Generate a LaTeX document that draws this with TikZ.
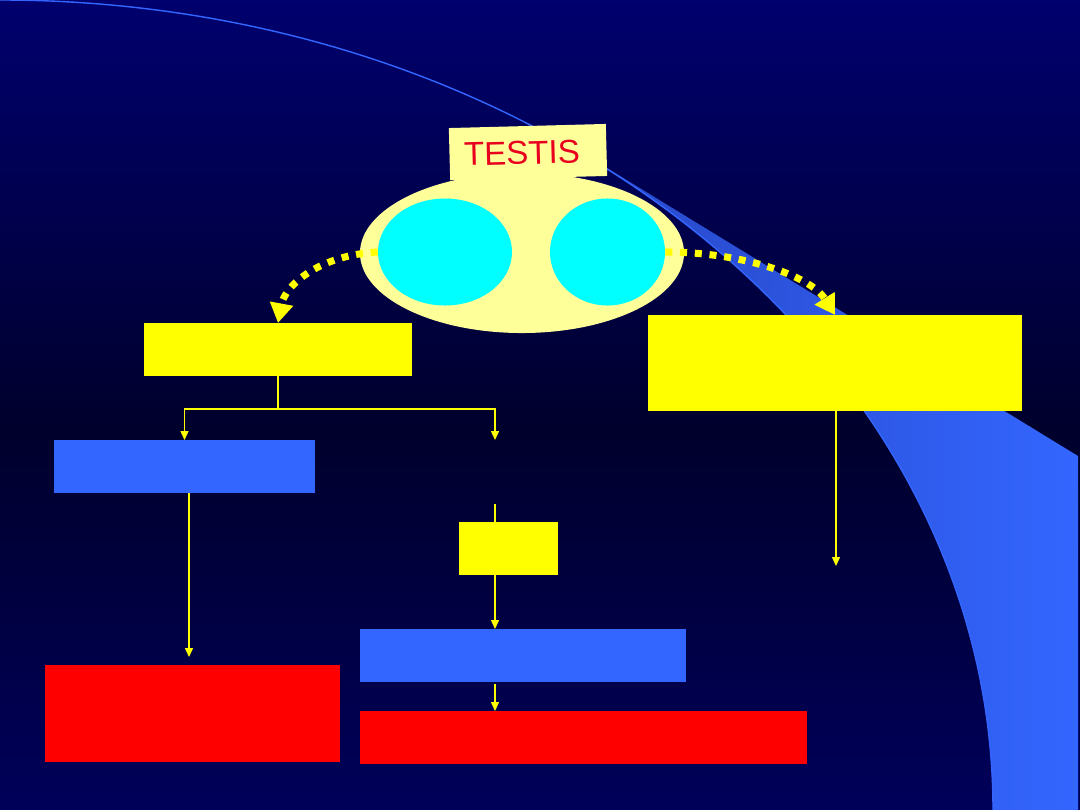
\documentclass[tikz,border=0pt]{standalone}
\usepackage{fontspec}
\setmainfont{Liberation Sans}
\usetikzlibrary{arrows.meta,shapes.geometric}

\definecolor{fondhaut}{RGB}{0,0,110}
\definecolor{fondmilieu}{RGB}{0,0,44}
\definecolor{fondbas}{RGB}{0,0,90}
\definecolor{vagueG}{RGB}{40,72,200}
\definecolor{vagueD}{RGB}{51,102,255}
\definecolor{jaunevif}{RGB}{255,255,0}
\definecolor{jaunepale}{RGB}{255,255,153}
\definecolor{bleuvif}{RGB}{51,102,255}
\definecolor{rougevif}{RGB}{255,0,0}
\definecolor{rougetitre}{RGB}{232,0,30}
\definecolor{cyanvif}{RGB}{0,255,255}

\begin{document}
\begin{tikzpicture}[x=0.025cm, y=-0.025cm,
	boite/.style={rectangle, inner sep=0pt, outer sep=0pt},
	jaune/.style={boite, fill=jaunevif},
	bleu/.style={boite, fill=bleuvif},
	rouge/.style={boite, fill=rougevif},
	lien/.style={draw=jaunevif, line width=1pt},
	fleche/.style={lien, -{Triangle[length=6.4pt,width=5.7pt]}},
	pointille/.style={draw=jaunevif, line width=5pt, dash pattern=on 5pt off 5.5pt, -{Triangle[length=14pt,width=16pt]}}]
	\useasboundingbox (0,0) rectangle (1080,810);
	
	% Fond
	\shade[top color=fondhaut, bottom color=fondmilieu] (0,0) rectangle (1080,430);
	\shade[top color=fondmilieu, bottom color=fondbas] (0,429) rectangle (1080,810);
	\shade[left color=vagueG, right color=vagueD] (607,168) -- (1078,456) -- (1078,810) -- (993,810)
		arc[start angle=0, end angle=-52.4, x radius=993, y radius=810] -- cycle;
	\draw[bleuvif, line width=1pt] (0,0) arc[start angle=-90, end angle=0, x radius=993, y radius=810];
	
	% Testis
	\node[ellipse, fill=jaunepale, inner sep=0pt, minimum width=8.1cm, minimum height=4cm] (testis) at (522,253) {};
	\node[ellipse, fill=cyanvif, inner sep=0pt, minimum width=3.35cm, minimum height=2.675cm] (tubeG) at (445,252) {};
	\node[ellipse, fill=cyanvif, inner sep=0pt, minimum width=2.875cm, minimum height=2.675cm] (tubeD) at (607.5,252) {};
	\node[boite, fill=jaunepale, rotate=1.5, minimum width=3.925cm, minimum height=1.3cm] (titre) at (528,152) {};
	\node[text=rougetitre, font=\fontsize{23.5}{28}\selectfont, rotate=1.5, inner sep=0pt] (nom) at (522,153) {TESTIS};
	
	% Boites
	\node[jaune, minimum width=6.7cm, minimum height=1.325cm] (gauche) at (278,349.5) {};
	\node[jaune, minimum width=9.35cm, minimum height=2.4cm] (droite) at (835,363) {};
	\node[bleu, minimum width=6.525cm, minimum height=1.325cm] (bleuG) at (184.5,466.5) {};
	\node[jaune, minimum width=2.475cm, minimum height=1.325cm] (petit) at (508.5,548.5) {};
	\node[bleu, minimum width=8.15cm, minimum height=1.325cm] (bleuM) at (523,655.5) {};
	\node[rouge, minimum width=7.375cm, minimum height=2.425cm] (rougeG) at (192.5,713.5) {};
	\node[rouge, minimum width=11.175cm, minimum height=1.325cm] (rougeM) at (583.5,737.5) {};
	
	% Fleches pointillees
	\draw[pointille] (tubeG.west) .. controls (320,255) and (285,285) .. (gauche.north);
	\draw[pointille] (tubeD.east) .. controls (740,252) and (810,275) .. (droite.north);
	
	% Liens
	\coordinate (fourche) at (278,409);
	\coordinate (finM) at (495,440);
	\coordinate (debutM) at (495,504);
	\coordinate (finG) at (189,657);
	\coordinate (finD) at (836,566);
	\draw[lien] (gauche.south) -- (fourche);
	\draw[fleche] (fourche) -| (bleuG.north);
	\draw[fleche] (fourche) -| (finM);
	\draw[lien] (debutM) -- (debutM |- petit.north);
	\draw[fleche] (petit.south -| debutM) -- (bleuM.north -| debutM);
	\draw[fleche] ([yshift=-1.5pt]bleuM.south -| debutM) -- (rougeM.north -| debutM);
	\draw[fleche] (bleuG.south -| finG) -- (finG);
	\draw[fleche] (droite.south -| finD) -- (finD);
\end{tikzpicture}
\end{document}
